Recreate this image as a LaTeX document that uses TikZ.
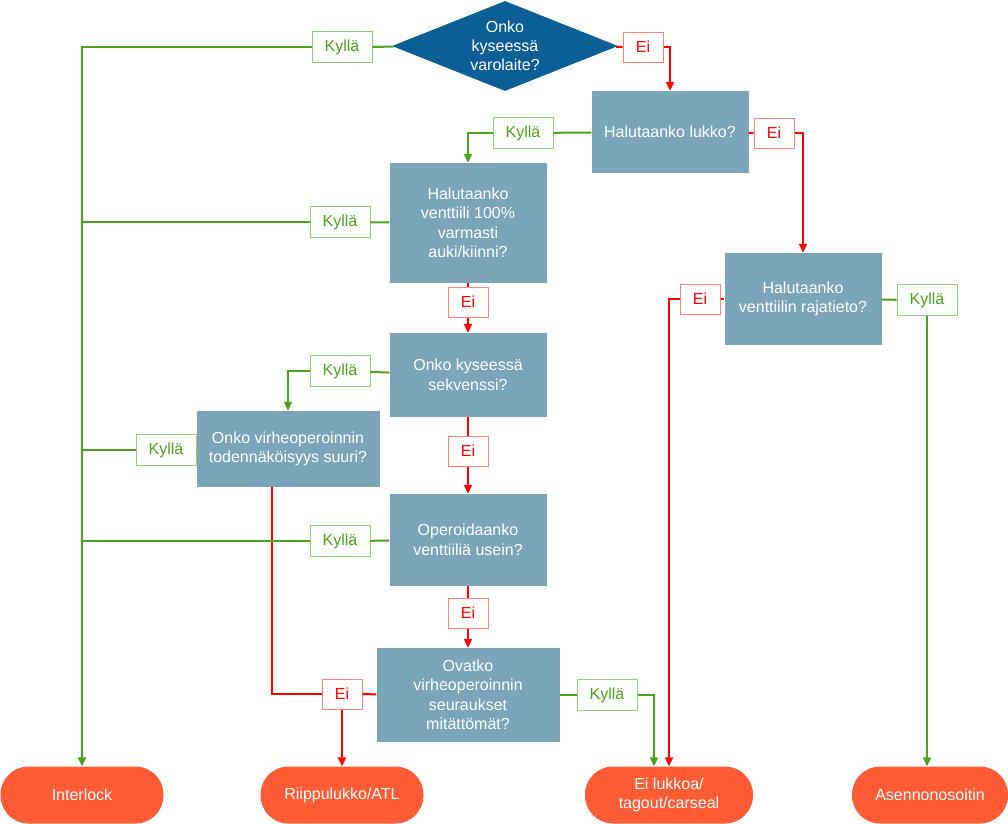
\documentclass[tikz,border=0pt]{standalone}
\usepackage{fontspec}
\setmainfont{Liberation Sans}
\usetikzlibrary{shapes.geometric, positioning, arrows.meta}
\definecolor{boxblue}{RGB}{123,165,185}
\definecolor{darkblue}{RGB}{11,94,150}
\definecolor{endorange}{RGB}{255,92,53}
\definecolor{yesgreen}{RGB}{76,161,30}
\definecolor{yesframe}{RGB}{150,205,120}
\definecolor{nored}{RGB}{255,0,0}
\definecolor{noframe}{RGB}{255,130,130}
\tikzset{question/.style={fill=boxblue,text=white,minimum width=157pt,align=center,inner sep=2pt,font=\fontsize{16}{19.5}\selectfont},
         start/.style={diamond,aspect=2.5,fill=darkblue,text=white,minimum width=226pt,minimum height=90pt,inner sep=0pt,align=center,font=\fontsize{16}{19}\selectfont},
         result/.style={fill=endorange,text=white,rounded corners=28pt,minimum width=163pt,minimum height=57pt,align=center,font=\fontsize{16}{19}\selectfont},
         yeslabel/.style={draw=yesframe,fill=white,text=yesgreen,line width=1pt,minimum width=60pt,minimum height=31pt,inner sep=0pt,font=\fontsize{16}{17}\selectfont},
         nolabel/.style={draw=noframe,fill=white,text=nored,line width=1pt,minimum width=40pt,minimum height=30pt,inner sep=0pt,font=\fontsize{16}{17}\selectfont},
         yes/.style={draw=yesgreen,line width=2pt},
         no/.style={draw=nored,line width=2pt},
        }

\begin{document}
\begin{tikzpicture}[x=1pt,y=-1pt,>={Triangle[length=9pt,width=8pt]}]
        \useasboundingbox(0,0)rectangle(1008,823);

        \node[start](varo)at(505,46){Onko\\kyseessä\\varolaite?};
        \node[yeslabel](y1)at(342,47){Kyllä};
        \node[nolabel](n1)at(643,47){Ei};

        \node[question,minimum height=82pt](lukko)at(670,132){Halutaanko lukko?};
        \node[yeslabel](y2)at(523,133){Kyllä};
        \node[nolabel](n2)at(774,133){Ei};

        \node[question,minimum height=120pt](sata)at(468,223){Halutaanko\\venttiili 100\%\\varmasti\\auki/kiinni?};
        \node[yeslabel](y3)at(340,222){Kyllä};
        \node[nolabel](n3)at(468,302){Ei};

        \node[question,minimum height=84pt](sekv)at(468,375){Onko kyseessä\\sekvenssi?};
        \node[yeslabel](y4)at(340,371){Kyllä};
        \node[nolabel](n4)at(468,451){Ei};

        \node[question,minimum width=183pt,minimum height=76pt](virhe)at(288,449){Onko virheoperoinnin\\todennäköisyys suuri?};
        \node[yeslabel](y5)at(166,450){Kyllä};

        \node[question,minimum height=92pt](usein)at(468,540){Operoidaanko\\venttiiliä usein?};
        \node[yeslabel](y6)at(340,541){Kyllä};
        \node[nolabel](n6)at(468,613){Ei};

        \node[question,minimum width=183pt,minimum height=94pt](seur)at(468,695){Ovatko\\virheoperoinnin\\seuraukset\\mitättömät?};
        \node[nolabel](n7)at(342,694){Ei};
        \node[yeslabel](y7)at(607,695){Kyllä};

        \node[question,minimum height=92pt](raja)at(803,299){Halutaanko\\venttiilin rajatieto?};
        \node[nolabel](n5)at(700,299){Ei};
        \node[yeslabel](y8)at(927,300){Kyllä};

        \node[result](inter)at(82,795){Interlock};
        \node[result](riippu)at(342,795){Riippulukko/ATL};
        \node[result,minimum width=168pt](eilukko)at(669,795){Ei lukkoa/\\tagout/carseal};
        \node[result,minimum width=156pt](asento)at(930,795){Asennonosoitin};

        % varolaite
        \draw[yes](varo)--(y1);
        \draw[yes,->](y1)-|(inter);
        \draw[no](varo)--(n1);
        \draw[no,->](n1)-|(lukko);

        % lukko
        \draw[yes](lukko)--(y2);
        \draw[yes,->](y2)-|(sata);
        \draw[no](lukko)--(n2);
        \draw[no,->](n2)-|(raja);

        % 100%
        \draw[yes](sata)--(y3);
        \draw[yes](y3)--(y3-|inter);
        \draw[no](sata)--(n3);
        \draw[no,->](n3)--(sekv);

        % sekvenssi
        \draw[yes](sekv)--(y4);
        \draw[yes,->](y4)-|(virhe);
        \draw[no](sekv)--(n4);
        \draw[no,->](n4)--(usein);

        % virheoperointi
        \draw[yes](virhe)--(y5);
        \draw[yes](y5)--(y5-|inter);
        \draw[no]([xshift=-16pt]virhe.south)|-(n7);

        % usein
        \draw[yes](usein)--(y6);
        \draw[yes](y6)--(y6-|inter);
        \draw[no](usein)--(n6);
        \draw[no,->](n6)--(seur);

        % seuraukset
        \draw[no](seur)--(n7);
        \draw[no,->](n7)--(riippu);
        \draw[yes](seur)--(y7);
        \draw[yes,->](y7)-|([xshift=-15pt]eilukko.north);

        % rajatieto
        \draw[no](raja)--(n5);
        \draw[no,->](n5)-|(eilukko);
        \draw[yes](raja)--(y8);
        \draw[yes,->](y8)--(y8|-asento.north);
    \end{tikzpicture}
\end{document}
